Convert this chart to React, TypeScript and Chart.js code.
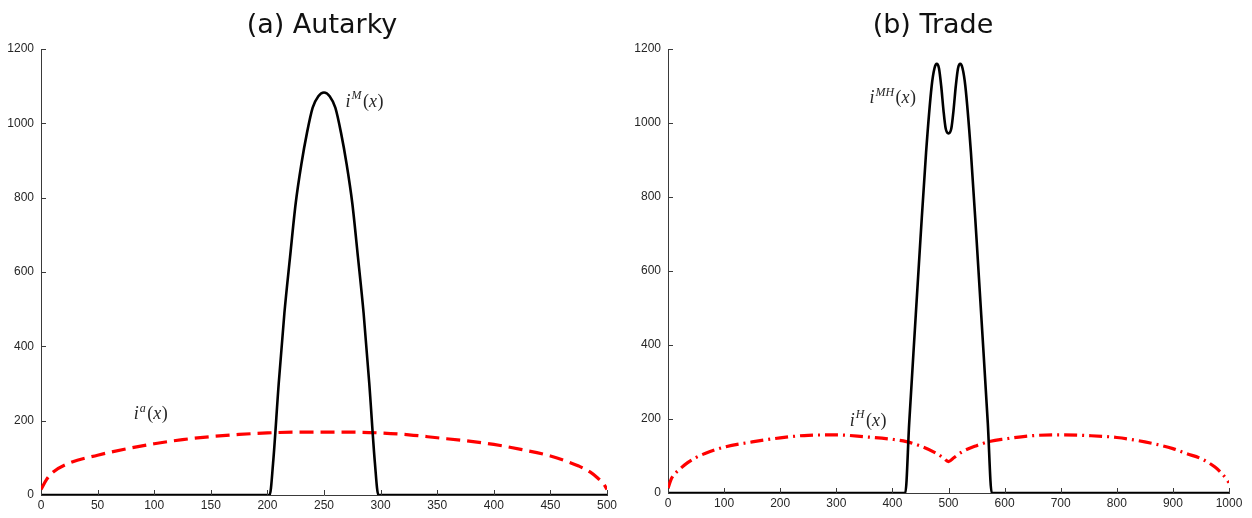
import React, { useEffect, useRef } from "react";
import { Chart, registerables } from "chart.js";

Chart.register(...registerables);

// ---------- Data ----------
// (a) Autarky
const autarkyMx = [0, 100, 200, 202, 205, 210, 215, 220, 225, 230, 235, 240, 245, 250, 255, 260, 265, 270, 275, 280, 285, 290, 295, 298, 400, 500];
const autarkyMy = [0, 0, 0, 0, 85, 300, 489, 640, 785, 890, 975, 1042, 1073, 1083, 1073, 1042, 975, 890, 785, 640, 489, 300, 85, 0, 0, 0];

const autarkyAx = [0, 5, 10, 25, 50, 75, 100, 125, 150, 175, 200, 225, 250, 275, 300, 325, 350, 375, 400, 425, 450, 465, 475, 485, 492, 497, 500];
const autarkyAy = [15, 42, 60, 86, 107, 124, 138, 149, 157, 163, 167, 169, 169, 169, 167, 162, 154, 146, 136, 122, 105, 90, 78, 62, 45, 30, 15];

// (b) Trade
const tradeMHx = [0, 200, 423, 430, 440, 450, 460, 470, 475, 479, 483, 487, 491, 495, 500, 505, 509, 513, 517, 521, 525, 530, 540, 550, 560, 570, 577, 800, 1000];
const tradeMHy = [0, 0, 0, 190, 440, 686, 920, 1100, 1148, 1160, 1148, 1100, 1035, 985, 972, 985, 1035, 1100, 1148, 1160, 1148, 1100, 920, 686, 440, 190, 0, 0, 0];

const tradeHx = [0, 5, 10, 20, 35, 50, 75, 100, 150, 200, 250, 300, 350, 400, 425, 450, 475, 490, 500, 510, 525, 550, 575, 600, 650, 700, 750, 800, 850, 900, 925, 950, 975, 990, 1000];
const tradeHy = [12, 35, 48, 63, 82, 96, 112, 124, 138, 149, 156, 157, 152, 145, 139, 127, 110, 96, 85, 96, 112, 128, 140, 146, 155, 157, 155, 150, 138, 120, 106, 93, 70, 48, 28];

const yTicks = [0, 200, 400, 600, 800, 1000, 1200];
const xTicksA = [0, 50, 100, 150, 200, 250, 300, 350, 400, 450, 500];
const xTicksB = [0, 100, 200, 300, 400, 500, 600, 700, 800, 900, 1000];

const titleA = "(a) Autarky";
const titleB = "(b) Trade";

// label anchors in data coordinates
const labelsA = [
  { x: 269, y: 1044, base: "i", sup: "M" },
  { x: 82, y: 204, base: "i", sup: "a" },
];
const labelsB = [
  { x: 359, y: 1054, base: "i", sup: "MH" },
  { x: 324, y: 182, base: "i", sup: "H" },
];

const pts = (xs: number[], ys: number[]) => xs.map((x, i) => ({ x, y: ys[i] }));

const AXIS_COLOR = "#3a3a3a";
const TEXT_COLOR = "#262626";

const decorPlugin = {
  id: "decor",
  afterDraw(chart: any) {
    const opts = chart.options.plugins.decor;
    const ctx = chart.ctx;
    const xs = chart.scales.x;
    const ys = chart.scales.y;
    const area = chart.chartArea;
    ctx.save();
    // inward tick marks
    ctx.strokeStyle = AXIS_COLOR;
    ctx.lineWidth = 1;
    ctx.beginPath();
    for (const t of ys.ticks) {
      const py = Math.round(ys.getPixelForValue(t.value)) + 0.5;
      ctx.moveTo(area.left, py);
      ctx.lineTo(area.left + 5, py);
    }
    for (const t of xs.ticks) {
      const px = Math.round(xs.getPixelForValue(t.value)) + 0.5;
      ctx.moveTo(px, area.bottom);
      ctx.lineTo(px, area.bottom - 5);
    }
    ctx.stroke();

    // title
    ctx.fillStyle = "#111";
    ctx.font = "27px 'DejaVu Sans'";
    ctx.textAlign = "center";
    ctx.textBaseline = "alphabetic";
    ctx.fillText(opts.title, opts.titleX, 33);

    // math labels
    ctx.textAlign = "left";
    ctx.fillStyle = TEXT_COLOR;
    for (const l of opts.labels) {
      let px = xs.getPixelForValue(l.x);
      const py = ys.getPixelForValue(l.y);
      ctx.font = "italic 18px 'Liberation Serif'";
      ctx.fillText(l.base, px, py);
      px += ctx.measureText(l.base).width + 1;
      ctx.font = "italic 12px 'Liberation Serif'";
      ctx.fillText(l.sup, px, py - 7.5);
      px += ctx.measureText(l.sup).width + 1.5;
      ctx.font = "18px 'Liberation Serif'";
      ctx.fillText("(", px, py);
      px += ctx.measureText("(").width;
      ctx.font = "italic 18px 'Liberation Serif'";
      ctx.fillText("x", px, py);
      px += ctx.measureText("x").width + 0.5;
      ctx.font = "18px 'Liberation Serif'";
      ctx.fillText(")", px, py);
    }
    ctx.restore();
  },
};

function makeConfig(p: {
  mX: number[]; mY: number[]; rX: number[]; rY: number[];
  xMax: number; xTicks: number[]; dash: number[];
  title: string; titleX: number; labels: any[];
  padLeft: number; padRight: number; yWidth: number; xHeight: number;
}) {
  return {
    type: "line",
    data: {
      datasets: [
        {
          data: pts(p.mX, p.mY),
          borderColor: "#000",
          borderWidth: 2.6,
          pointRadius: 0,
          cubicInterpolationMode: "monotone",
          fill: false,
        },
        {
          data: pts(p.rX, p.rY),
          borderColor: "#ff0000",
          borderWidth: 3.2,
          borderDash: p.dash,
          pointRadius: 0,
          cubicInterpolationMode: "monotone",
          fill: false,
        },
      ],
    },
    options: {
      responsive: false,
      animation: false,
      layout: { padding: { left: p.padLeft, right: p.padRight, top: 49, bottom: 0 } },
      plugins: {
        legend: { display: false },
        tooltip: { enabled: false },
        title: { display: false },
        decor: { title: p.title, titleX: p.titleX, labels: p.labels },
      },
      scales: {
        x: {
          type: "linear",
          min: 0,
          max: p.xMax,
          afterFit: (s: any) => { s.height = p.xHeight; },
          afterBuildTicks: (s: any) => {
            s.ticks = p.xTicks.map((v) => ({ value: v }));
          },
          ticks: {
            color: TEXT_COLOR,
            font: { family: "'Liberation Sans'", size: 12 },
            padding: 3,
            maxRotation: 0,
            autoSkip: false,
            callback: (v: any) => String(v),
          },
          grid: { display: true, drawOnChartArea: false, drawTicks: false },
          border: { display: true, color: AXIS_COLOR, width: 1 },
        },
        y: {
          type: "linear",
          min: 0,
          max: 1200,
          afterFit: (s: any) => { s.width = p.yWidth; },
          afterBuildTicks: (s: any) => {
            s.ticks = yTicks.map((v) => ({ value: v }));
          },
          ticks: {
            color: TEXT_COLOR,
            font: { family: "'Liberation Sans'", size: 12 },
            padding: 7,
            autoSkip: false,
            callback: (v: any) => String(v),
          },
          grid: { display: true, drawOnChartArea: false, drawTicks: false },
          border: { display: true, color: AXIS_COLOR, width: 1 },
        },
      },
    },
    plugins: [decorPlugin],
  } as any;
}

function ChartCanvas({ config, left }: { config: any; left: number }) {
  const ref = useRef<HTMLCanvasElement | null>(null);
  useEffect(() => {
    if (!ref.current) return;
    const chart = new Chart(ref.current, config);
    return () => chart.destroy();
  }, [config]);
  return (
    <canvas
      ref={ref}
      width={626}
      height={518}
      style={{ position: "absolute", left, top: 0, width: 626, height: 518, display: "block" }}
    />
  );
}

const configA = makeConfig({
  mX: autarkyMx, mY: autarkyMy, rX: autarkyAx, rY: autarkyAy,
  xMax: 500, xTicks: xTicksA, dash: [14, 7],
  title: titleA, titleX: 322, labels: labelsA,
  padLeft: 0, padRight: 19, yWidth: 41, xHeight: 23,
});

const configB = makeConfig({
  mX: tradeMHx, mY: tradeMHy, rX: tradeHx, rY: tradeHy,
  xMax: 1000, xTicks: xTicksB, dash: [13, 5, 2, 5],
  title: titleB, titleX: 307, labels: labelsB,
  padLeft: 0, padRight: 23, yWidth: 42, xHeight: 25,
});

export default function App() {
  return (
    <div style={{ position: "absolute", left: 0, top: 0, width: 1252, height: 518, background: "#fff", overflow: "hidden" }}>
      <ChartCanvas config={configA} left={0} />
      <ChartCanvas config={configB} left={626} />
    </div>
  );
}
